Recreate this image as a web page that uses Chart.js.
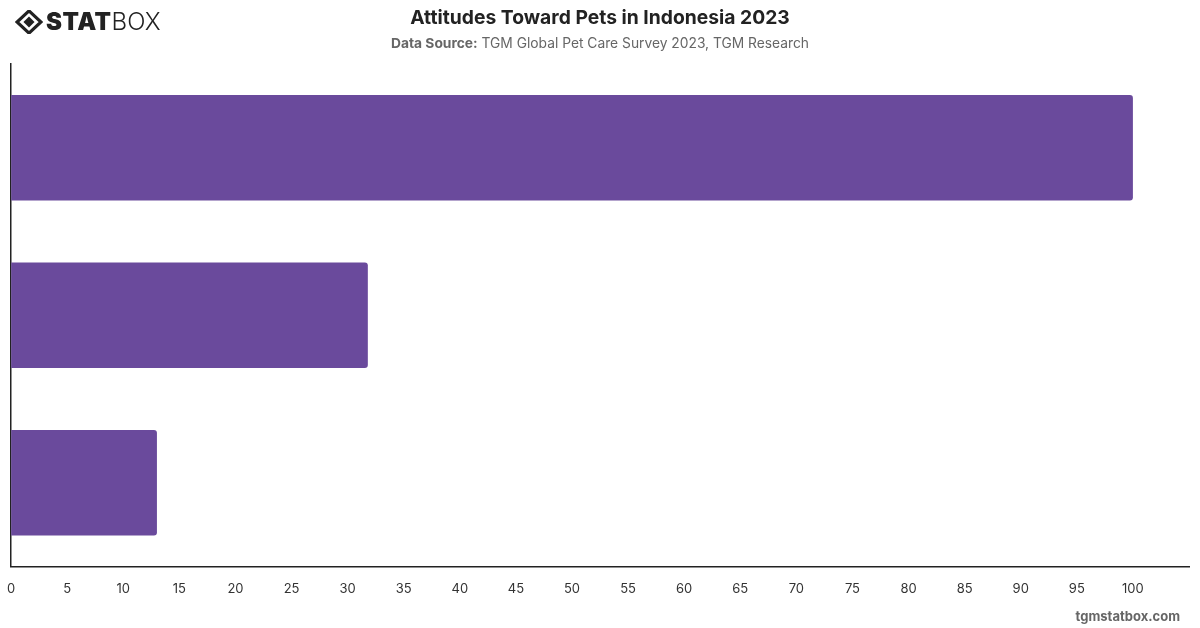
<!DOCTYPE html>
<html>
<head>
<meta charset="utf-8">
<script src="https://cdn.jsdelivr.net/npm/chart.js@4"></script>
<style>
    body { margin: 0; background: #fff; font-family: Inter, "Noto Sans", sans-serif; }
    #wrap { position: relative; width: 1200px; height: 628px; overflow: hidden; }
    #chartBox { position: absolute; left: 0; top: 0; width: 1200px; height: 628px; }
    .logo { position: absolute; left: 15px; top: 7px; display: flex; align-items: center; color: #222; }
    .logo .stat { font-weight: 900; font-size: 24px; letter-spacing: 0.5px; margin-left: 3px; }
    .logo .box { font-weight: 300; font-size: 24px; }
    .title { position: absolute; left: 0; width: 1200px; top: 5px; text-align: center; font-size: 19.3px; font-weight: 700; color: #222; }
    .subtitle { position: absolute; left: 0; width: 1200px; top: 35px; text-align: center; font-size: 13.8px; color: #666; }
    .subtitle b { color: #666; }
    .footer { position: absolute; right: 20px; top: 608px; font-size: 13px; font-weight: 700; color: #666; }
</style>
</head>
<body>
<div id="wrap">
    <div id="chartBox"><canvas id="barChart" width="1200" height="628"></canvas></div>
    <div class="logo">
        <svg width="28" height="24" viewBox="0 0 30 26">
            <path d="M15 1 L28 13 L15 25 L2 13 Z" fill="none" stroke="#222" stroke-width="3.5"/>
            <path d="M15 7 L21 13 L15 19 L9 13 Z" fill="#222"/>
        </svg>
        <span class="stat">STAT</span><span class="box">BOX</span>
    </div>
    <div class="title">Attitudes Toward Pets in Indonesia 2023</div>
    <div class="subtitle"><b>Data Source:</b> TGM Global Pet Care Survey 2023, TGM Research</div>
    <div class="footer">tgmstatbox.com</div>
</div>
<script>
const categories = ["", "", ""];
const values = [100, 31.8, 13];
const barColor = "#6a4a9c";

const ctx = document.getElementById("barChart").getContext("2d");

new Chart(ctx, {
    type: "bar",
    data: {
        labels: categories,
        datasets: [{
            data: values,
            backgroundColor: barColor,
            borderRadius: { topRight: 3, bottomRight: 3 },
            borderSkipped: false,
            barPercentage: 0.9,
            categoryPercentage: 0.7
        }]
    },
    options: {
        indexAxis: "y",
        responsive: false,
        animation: false,
        layout: {
            padding: { top: 64, left: 2, right: 11, bottom: 24 }
        },
        plugins: {
            legend: { display: false },
            tooltip: { enabled: false }
        },
        scales: {
            x: {
                min: 0,
                max: 105,
                grid: { display: false },
                border: { display: true, color: "#222", width: 1.5 },
                ticks: {
                    stepSize: 5,
                    padding: 7,
                    color: "#333",
                    font: { family: "Inter", size: 13 },
                    callback: v => v > 100 ? "" : v
                }
            },
            y: {
                grid: { display: false },
                border: { display: true, color: "#222", width: 1.5 },
                ticks: { display: false }
            }
        }
    }
});
</script>
</body>
</html>
